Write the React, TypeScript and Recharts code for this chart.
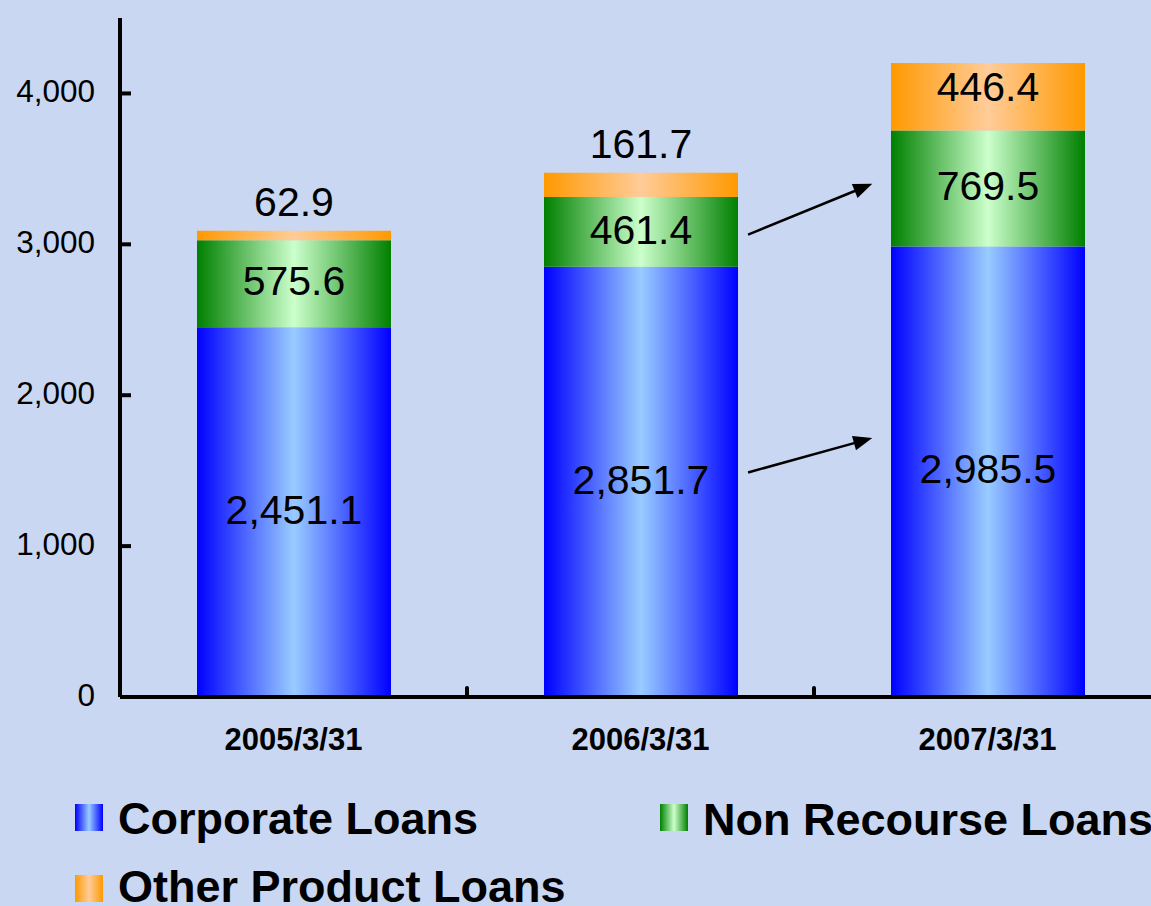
import React from 'react';
import { BarChart, Bar, XAxis, YAxis, LabelList, ReferenceLine } from 'recharts';

const categories = ['2005/3/31', '2006/3/31', '2007/3/31'];
const corporateLoans = [2451.1, 2851.7, 2985.5];
const nonRecourseLoans = [575.6, 461.4, 769.5];
const otherProductLoans = [62.9, 161.7, 446.4];
const yTicks = [0, 1000, 2000, 3000, 4000];
const seriesNames = ['Corporate Loans', 'Non Recourse Loans', 'Other Product Loans'];

// annotation arrows, in data coordinates (helper numeric x axis 0..3, value y axis)
const arrows = [
  { x1: 1.81, y1: 3064, x2: 2.168, y2: 3401 },
  { x1: 1.81, y1: 1488, x2: 2.168, y2: 1716 },
];
// category boundaries on helper axis
const boundaries = [1, 2];

const data = categories.map((c, i) => ({
  category: c,
  corporate: corporateLoans[i],
  nonRecourse: nonRecourseLoans[i],
  other: otherProductLoans[i],
}));

const FONT = '"Liberation Sans", Arial, Helvetica, sans-serif';
const BG = '#C9D7F2';
const fmt = (v: number) =>
  v.toLocaleString('en-US', { minimumFractionDigits: 1, maximumFractionDigits: 1 });

const makeLabel = (kind: string) => (props: any) => {
  const vb = props.viewBox || {};
  const x = Number(props.x ?? vb.x);
  const y = Number(props.y ?? vb.y);
  const width = Number(props.width ?? vb.width);
  const height = Number(props.height ?? vb.height);
  const cx = x + width / 2;
  let cy = y + height / 2 - 3;
  if (kind === 'other') {
    cy = height < 40 ? y - 29 : y + height / 2 - 10;
  }
  return (
    <text
      x={cx}
      y={cy + 0.358 * 41}
      textAnchor="middle"
      fontSize={41}
      fontFamily={FONT}
      fill="#000"
    >
      {fmt(Number(props.value))}
    </text>
  );
};

const YTick = (props: any) => {
  const { x, y, payload } = props;
  return (
    <g>
      <line x1={x} y1={y} x2={x + 11} y2={y} stroke="#000" strokeWidth={4} />
      <text
        x={x - 25}
        y={y + 9}
        textAnchor="end"
        fontSize={31.5}
        fontFamily={FONT}
        fill="#000"
      >
        {Number(payload.value).toLocaleString('en-US')}
      </text>
    </g>
  );
};

const XTick = (props: any) => {
  const { x, y, payload } = props;
  return (
    <text
      x={x}
      y={y + 53}
      textAnchor="middle"
      fontSize={31}
      fontWeight="bold"
      fontFamily={FONT}
      fill="#000"
    >
      {payload.value}
    </text>
  );
};

const ArrowShape = (props: any) => {
  const { x1, y1, x2, y2 } = props;
  const dx = x2 - x1;
  const dy = y2 - y1;
  const len = Math.hypot(dx, dy) || 1;
  const ux = dx / len;
  const uy = dy / len;
  const hl = 19;
  const hw = 7.5;
  const bx = x2 - ux * hl;
  const by = y2 - uy * hl;
  const px = -uy;
  const py = ux;
  return (
    <g>
      <line x1={x1} y1={y1} x2={bx + ux * 2} y2={by + uy * 2} stroke="#000" strokeWidth={2.5} />
      <polygon
        points={`${x2},${y2} ${bx + px * hw},${by + py * hw} ${bx - px * hw},${by - py * hw}`}
        fill="#000"
      />
    </g>
  );
};

const TickShape = (props: any) => {
  const { x1, y1, x2, y2 } = props;
  return (
    <line x1={x1} y1={y1} x2={x2} y2={y2} stroke="#000" strokeWidth={4} strokeLinecap="round" />
  );
};

const Gradients = ({ prefix }: { prefix: string }) => (
  <defs>
    <linearGradient id={`${prefix}blue`} x1="0" y1="0" x2="1" y2="0">
      <stop offset="0%" stopColor="#0000FF" />
      <stop offset="50%" stopColor="#99CCFF" />
      <stop offset="100%" stopColor="#0000FF" />
    </linearGradient>
    <linearGradient id={`${prefix}green`} x1="0" y1="0" x2="1" y2="0">
      <stop offset="0%" stopColor="#008000" />
      <stop offset="50%" stopColor="#CCFFCC" />
      <stop offset="100%" stopColor="#008000" />
    </linearGradient>
    <linearGradient id={`${prefix}orange`} x1="0" y1="0" x2="1" y2="0">
      <stop offset="0%" stopColor="#FF9900" />
      <stop offset="50%" stopColor="#FFCC99" />
      <stop offset="100%" stopColor="#FF9900" />
    </linearGradient>
  </defs>
);

const legendItems = [
  { name: seriesNames[0], color: 'lgblue', ix: 75, iy: 804, tx: 118, ty: 834 },
  { name: seriesNames[1], color: 'lggreen', ix: 660, iy: 804, tx: 703, ty: 835 },
  { name: seriesNames[2], color: 'lgorange', ix: 75, iy: 875, tx: 118, ty: 902 },
];

const categoryIndex = (d: any) => categories.indexOf(d.category);

export default function App() {
  return (
    <div
      style={{
        position: 'absolute',
        left: 0,
        top: 0,
        width: 1151,
        height: 906,
        overflow: 'hidden',
        background: BG,
      }}
    >
      <BarChart
        width={1161}
        height={757}
        data={data}
        margin={{ top: 18, right: 0, bottom: 0, left: 0 }}
        barSize={194}
        accessibilityLayer={false}
      >
        <Gradients prefix="g" />
        <XAxis
          xAxisId="c"
          dataKey="category"
          height={60}
          tickSize={0}
          tickMargin={0}
          tickLine={false}
          interval={0}
          axisLine={{ stroke: '#000', strokeWidth: 4 }}
          tick={(p: any) => <XTick {...p} />}
        />
        <XAxis
          xAxisId="n"
          type="number"
          dataKey={categoryIndex}
          domain={[0, 3]}
          hide
          allowDataOverflow
        />
        <YAxis
          domain={[0, 4500]}
          ticks={yTicks}
          width={120}
          tickSize={0}
          tickMargin={0}
          tickLine={false}
          interval={0}
          allowDataOverflow
          axisLine={{ stroke: '#000', strokeWidth: 4 }}
          tick={(p: any) => <YTick {...p} />}
        />
        <Bar xAxisId="c" dataKey="corporate" stackId="a" fill="url(#gblue)" isAnimationActive={false}>
          <LabelList dataKey="corporate" content={makeLabel('corporate')} />
        </Bar>
        <Bar xAxisId="c" dataKey="nonRecourse" stackId="a" fill="url(#ggreen)" isAnimationActive={false}>
          <LabelList dataKey="nonRecourse" content={makeLabel('nonRecourse')} />
        </Bar>
        <Bar xAxisId="c" dataKey="other" stackId="a" fill="url(#gorange)" isAnimationActive={false}>
          <LabelList dataKey="other" content={makeLabel('other')} />
        </Bar>
        {boundaries.map((b) => (
          <ReferenceLine
            key={`b${b}`}
            xAxisId="n"
            ifOverflow="visible"
            segment={[
              { x: b, y: 0 },
              { x: b, y: 60 },
            ]}
            shape={(p: any) => <TickShape {...p} />}
          />
        ))}
        {arrows.map((a, i) => (
          <ReferenceLine
            key={`a${i}`}
            xAxisId="n"
            ifOverflow="visible"
            segment={[
              { x: a.x1, y: a.y1 },
              { x: a.x2, y: a.y2 },
            ]}
            shape={(p: any) => <ArrowShape {...p} />}
          />
        ))}
      </BarChart>
      <svg
        width={1151}
        height={906}
        style={{ position: 'absolute', left: 0, top: 0, pointerEvents: 'none' }}
      >
        <Gradients prefix="lg" />
        {legendItems.map((it) => (
          <g key={it.name}>
            <rect x={it.ix} y={it.iy} width={28} height={27} fill={`url(#${it.color})`} />
            <text
              x={it.tx}
              y={it.ty}
              fontSize={45}
              fontWeight="bold"
              fontFamily={FONT}
              fill="#000"
            >
              {it.name}
            </text>
          </g>
        ))}
      </svg>
    </div>
  );
}
